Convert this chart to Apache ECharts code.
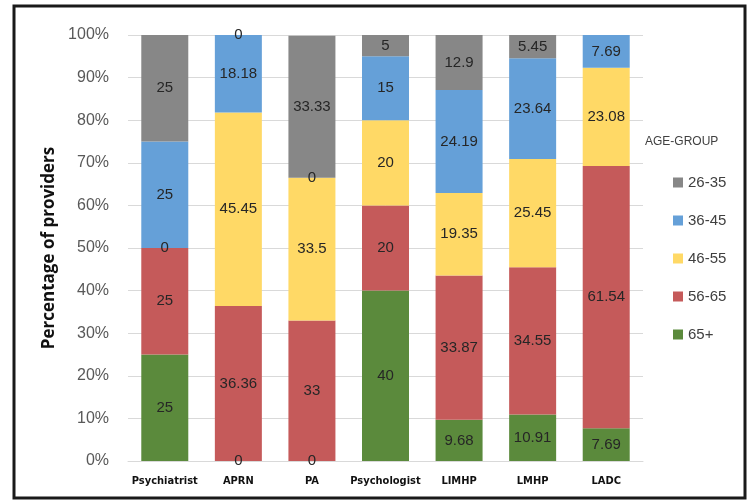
<!DOCTYPE html>
<html>
<head>
<meta charset="utf-8">
<script src="https://cdn.jsdelivr.net/npm/echarts@6/dist/echarts.min.js"></script>
<style>
html,body{margin:0;padding:0;background:#fff;}
#main{width:753px;height:503px;}
</style>
</head>
<body>
<div id="main"></div>
<script>
var categories = ['Psychiatrist','APRN','PA','Psychologist','LIMHP','LMHP','LADC'];
var age65plus = [25, 0, 0, 40, 9.68, 10.91, 7.69];
var age56_65 = [25, 36.36, 33, 20, 33.87, 34.55, 61.54];
var age46_55 = [0, 45.45, 33.5, 20, 19.35, 25.45, 23.08];
var age36_45 = [25, 18.18, 0, 15, 24.19, 23.64, 7.69];
var age26_35 = [25, 0, 33.33, 5, 12.9, 5.45, null];
var yTicks = [0,10,20,30,40,50,60,70,80,90,100];

var FONT = "'Liberation Sans', sans-serif";
var COND = "'DejaVu Sans Condensed', 'Liberation Sans', sans-serif";
var chart = echarts.init(document.getElementById('main'), null, {renderer:'canvas'});

function mk(name, data, color){
  return {
    name: name, type: 'bar', stack: 'all', data: data, barWidth: 47,
    itemStyle: {color: color},
    label: {show: true, position: 'inside', color: '#262626', fontSize: 15, fontFamily: FONT,
      formatter: function(p){ return p.value == null ? '' : String(p.value); }}
  };
}

chart.setOption({
  animation: false,
  backgroundColor: '#fff',
  grid: {left: 128, right: 110, top: 35, bottom: 42, containLabel: false},
  xAxis: {
    type: 'category', data: categories,
    axisLine: {lineStyle: {color: '#d9d9d9'}},
    axisTick: {show: false},
    axisLabel: {interval: 0, color: '#111', fontWeight: 'bold', fontSize: 11, fontFamily: COND, margin: 15}
  },
  yAxis: {
    type: 'value', min: 0, max: 100, interval: 10,
    name: 'Percentage of providers', nameLocation: 'middle', nameGap: 59,
    nameTextStyle: {color: '#111', fontWeight: 'bold', fontSize: 17, fontFamily: "'Open Sans', sans-serif"},
    axisLine: {show: false}, axisTick: {show: false},
    splitLine: {lineStyle: {color: '#d9d9d9', width: 1}},
    axisLabel: {color: '#595959', fontSize: 16, fontFamily: FONT, margin: 19,
      formatter: function(v){ return yTicks.indexOf(v) >= 0 ? v + '%' : ''; }}
  },
  legend: {
    orient: 'vertical', left: 668, top: 170,
    data: ['26-35','36-45','46-55','56-65','65+'],
    itemWidth: 10, itemHeight: 10, itemGap: 23,
    icon: 'rect',
    textStyle: {color: '#404040', fontSize: 15, fontFamily: FONT}
  },
  graphic: [
    {type: 'text', left: 645, top: 136, style: {text: 'AGE-GROUP', fill: '#404040', font: "12px " + FONT}},
    {type: 'rect', shape: {x: 14, y: 6, width: 731, height: 492},
      style: {fill: 'none', stroke: '#1a1a1a', lineWidth: 3}, silent: true}
  ],
  series: [
    mk('65+', age65plus, '#5b8a3c'),
    mk('56-65', age56_65, '#c55a5a'),
    mk('46-55', age46_55, '#ffd966'),
    mk('36-45', age36_45, '#65a0d8'),
    mk('26-35', age26_35, '#878787')
  ]
});
</script>
</body>
</html>
